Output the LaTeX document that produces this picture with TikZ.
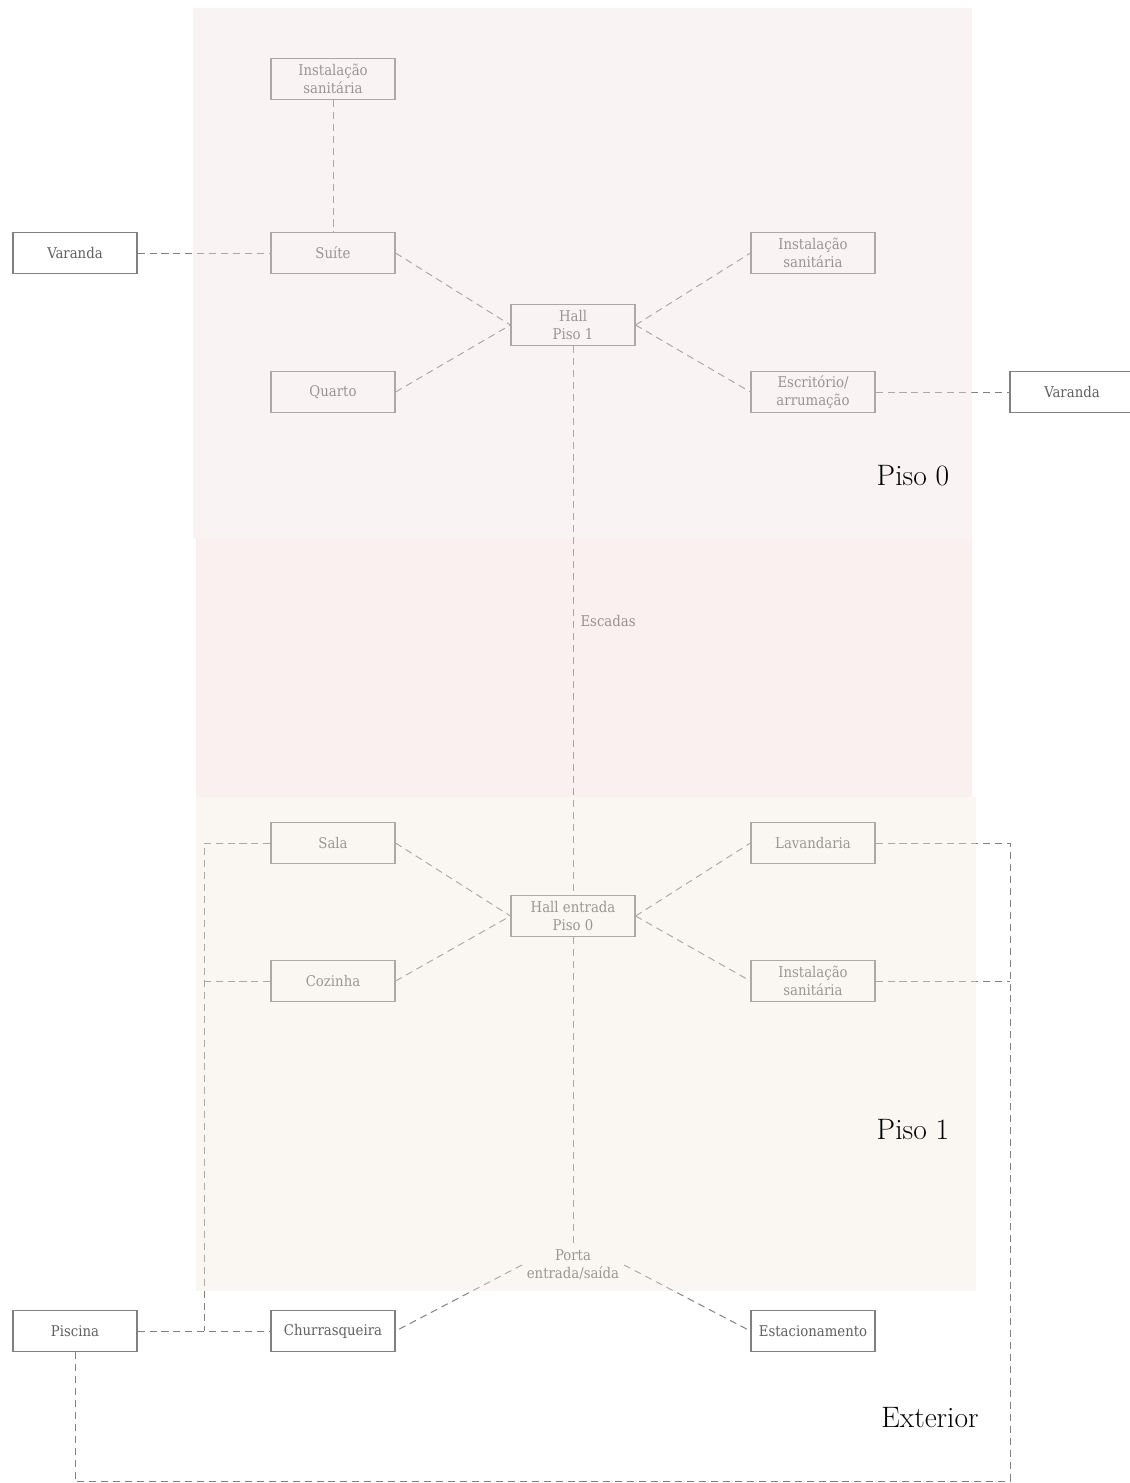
\documentclass[tikz,border=0pt]{standalone}
\usepackage{tikz}
\usepackage{fontspec}
\newfontfamily\rotulo{DejaVu Serif Condensed}

\definecolor{linhaext}{RGB}{128,128,128}
\definecolor{textoext}{RGB}{95,95,95}
\definecolor{zonapiso0}{RGB}{240,228,225}
\definecolor{zonaescadas}{RGB}{242,218,215}
\definecolor{zonapiso1}{RGB}{242,235,225}

\tikzset{
  sala/.style={draw=linhaext, text=textoext, line width=0.8pt, minimum width=3.1cm, minimum height=1.02cm, inner sep=0pt, align=center, font=\rotulo\fontsize{10.5}{12.8}\selectfont},
  passagem/.style={text=textoext, align=center, font=\rotulo\fontsize{10.5}{12.8}\selectfont},
  ligacao/.style={draw=linhaext, line width=0.7pt, dash pattern=on 5pt off 3.5pt},
  zona/.style={fill opacity=0.4},
  piso/.style={font=\fontsize{21}{25}\selectfont}
}

\begin{document}
\begin{tikzpicture}[x=0.025cm, y=-0.025cm]
  \useasboundingbox (0,0) rectangle (1129,1483);

  % Piso 1 (em cima)
  \node[sala] (isup) at (333,79) {Instalação\\sanitária};
  \node[sala] (suite) at (333,253) {Suíte};
  \node[sala] (varandaesq) at (75,253) {Varanda};
  \node[sala] (quarto) at (333,392) {Quarto};
  \node[sala] (hallsup) at (573,325) {Hall\\Piso 1};
  \node[sala] (isdir) at (813,253) {Instalação\\sanitária};
  \node[sala] (escritorio) at (813,392) {Escritório/\\arrumação};
  \node[sala] (varandadir) at (1072,392) {Varanda};

  % Piso 0 (em baixo)
  \node[sala] (hallinf) at (573,916) {Hall entrada\\Piso 0};
  \node[sala] (sala) at (333,843) {Sala};
  \node[sala] (cozinha) at (333,981) {Cozinha};
  \node[sala] (lavandaria) at (813,843) {Lavandaria};
  \node[sala] (isinf) at (813,981) {Instalação\\sanitária};
  \node[passagem] (porta) at (573,1265) {Porta\\entrada/saída};

  % Exterior
  \node[sala] (churrasqueira) at (333,1331) {Churrasqueira};
  \node[sala] (piscina) at (75,1331) {Piscina};
  \node[sala] (estacionamento) at (813,1331) {Estacionamento};

  % Pontos de junção
  \coordinate (jpiscina) at (204,1331);
  \coordinate (jfundo) at (1010,1481);

  % Ligações em cima
  \draw[ligacao] (isup) -- (suite);
  \draw[ligacao] (varandaesq) -- (suite);
  \draw[ligacao] (suite.east) -- (hallsup.west);
  \draw[ligacao] (quarto.east) -- (hallsup.west);
  \draw[ligacao] (hallsup.east) -- (isdir.west);
  \draw[ligacao] (hallsup.east) -- (escritorio.west);
  \draw[ligacao] (escritorio) -- (varandadir);

  % Escadas
  \draw[ligacao] (hallsup) -- (hallinf) node[midway, right, passagem, inner sep=5pt] (escadas) {Escadas};

  % Ligações em baixo
  \draw[ligacao] (sala.east) -- (hallinf.west);
  \draw[ligacao] (cozinha.east) -- (hallinf.west);
  \draw[ligacao] (hallinf.east) -- (lavandaria.west);
  \draw[ligacao] (hallinf.east) -- (isinf.west);
  \draw[ligacao] (hallinf) -- (porta);
  \draw[ligacao] (porta.west) -- (churrasqueira.east);
  \draw[ligacao] (porta.east) -- (estacionamento.west);

  % Ligações exteriores
  \draw[ligacao] (piscina) -- (churrasqueira);
  \draw[ligacao] (sala.west) -| (jpiscina);
  \draw[ligacao] (cozinha.west) -- (cozinha.west -| jpiscina);
  \draw[ligacao] (lavandaria.east) -| (jfundo);
  \draw[ligacao] (isinf.east) -- (isinf.east -| jfundo);
  \draw[ligacao] (piscina.south) |- (jfundo);

  % Zonas
  \fill[zona, zonapiso0] (193,8) rectangle (972,538);
  \fill[zona, zonaescadas] (196,538) rectangle (972,797);
  \fill[zona, zonapiso1] (196,797) rectangle (976,1291);

  % Nomes das zonas
  \node[piso] (piso0) at (913,476) {Piso 0};
  \node[piso] (piso1) at (913,1130) {Piso 1};
  \node[piso] (exterior) at (930,1418) {Exterior};
\end{tikzpicture}
\end{document}
